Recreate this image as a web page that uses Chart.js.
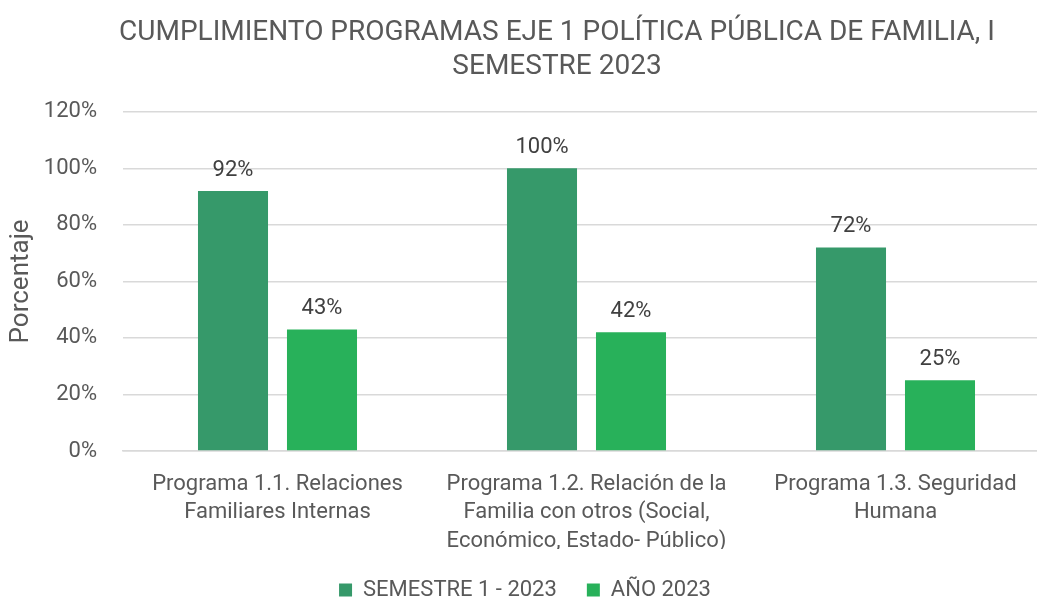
<!DOCTYPE html>
<html>
<head>
<meta charset="utf-8">
<script src="https://cdn.jsdelivr.net/npm/chart.js@4/dist/chart.umd.min.js"></script>
<style>
  html, body { margin: 0; padding: 0; background: #fff; overflow: hidden; }
  #wrap { width: 1050px; height: 611px; position: relative; }
</style>
</head>
<body>
<div id="wrap"><canvas id="myChart"></canvas></div>
<script>
var tituloGrafico = ['CUMPLIMIENTO PROGRAMAS EJE 1 POLÍTICA PÚBLICA DE FAMILIA, I', 'SEMESTRE 2023'];
var programas = [
    ['Programa 1.1. Relaciones', 'Familiares Internas'],
    ['Programa 1.2. Relación de la', 'Familia con otros (Social,', 'Económico, Estado- Público)'],
    ['Programa 1.3. Seguridad', 'Humana']
];
var semestre1 = [92, 100, 72];
var anio2023 = [43, 42, 25];
var ticksY = [0, 20, 40, 60, 80, 100, 120];

var gris = '#595959';
var fuente = "'Roboto', 'Liberation Sans', sans-serif";

// etiquetas de valor encima de cada barra
var etiquetasPlugin = {
    id: 'etiquetas',
    afterDatasetsDraw: function (chart) {
        var ctx = chart.ctx;
        ctx.save();
        ctx.font = '400 22px ' + fuente;
        ctx.fillStyle = '#404040';
        ctx.textAlign = 'center';
        ctx.textBaseline = 'alphabetic';
        chart.data.datasets.forEach(function (ds, i) {
            var meta = chart.getDatasetMeta(i);
            meta.data.forEach(function (bar, j) {
                ctx.fillText(ds.data[j] + '%', bar.x, bar.y - 15);
            });
        });
        ctx.restore();
    }
};

// el título en el original está algo desplazado a la derecha
var tituloPlugin = {
    id: 'moverTitulo',
    afterLayout: function (chart) {
        if (chart.titleBlock) {
            chart.titleBlock.left += 32;
            chart.titleBlock.right += 32;
        }
    }
};

var ctx = document.getElementById('myChart').getContext('2d');
var myChart = new Chart(ctx, {
    type: 'bar',
    data: {
        labels: programas,
        datasets: [{
            label: 'SEMESTRE 1 - 2023',
            data: semestre1,
            backgroundColor: '#36996A'
        }, {
            label: 'AÑO 2023',
            data: anio2023,
            backgroundColor: '#28B15A'
        }]
    },
    options: {
        responsive: true,
        maintainAspectRatio: false,
        animation: false,
        layout: { padding: 0 },
        datasets: {
            bar: { categoryPercentage: 0.576, barPercentage: 0.787 }
        },
        plugins: {
            title: {
                display: true,
                text: tituloGrafico,
                color: gris,
                font: { family: fuente, size: 28, weight: '400', lineHeight: 1.21 },
                padding: { top: 16, bottom: 28 }
            },
            legend: {
                position: 'bottom',
                labels: {
                    color: gris,
                    font: { family: fuente, size: 22, weight: '400' },
                    boxWidth: 13,
                    boxHeight: 13,
                    padding: 30
                }
            },
            tooltip: { enabled: false }
        },
        scales: {
            x: {
                afterFit: function (scale) { scale.height = 98; },
                grid: { display: false, drawTicks: false },
                border: { color: '#D9D9D9', width: 1.5 },
                ticks: {
                    color: gris,
                    padding: 19,
                    maxRotation: 0,
                    autoSkip: false,
                    font: { family: fuente, size: 22, weight: '400', lineHeight: 1.3 }
                }
            },
            y: {
                min: 0,
                max: 120,
                afterFit: function (scale) { scale.width = 123; },
                afterBuildTicks: function (scale) {
                    scale.ticks = ticksY.map(function (v) { return { value: v }; });
                },
                grid: { color: '#D9D9D9', lineWidth: 1.5, drawTicks: false },
                border: { display: false },
                ticks: {
                    color: gris,
                    padding: 26,
                    font: { family: fuente, size: 22, weight: '400' },
                    callback: function (v) { return v + '%'; }
                },
                title: {
                    display: true,
                    text: 'Porcentaje',
                    color: gris,
                    font: { family: fuente, size: 26, weight: '400' },
                    padding: { top: 6 }
                }
            }
        }
    },
    plugins: [etiquetasPlugin, tituloPlugin]
});
</script>
</body>
</html>
